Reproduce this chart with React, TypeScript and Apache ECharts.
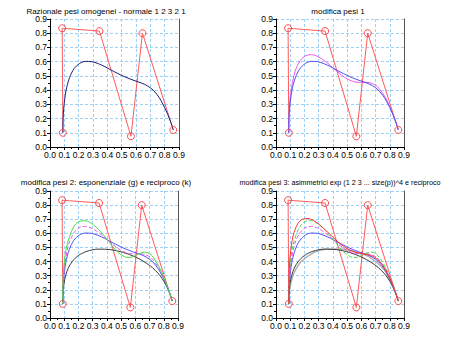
import React, { useEffect, useRef } from "react";
import * as echarts from "echarts";

// control polygon
const ctrlX = [0.09, 0.085, 0.345, 0.565, 0.645, 0.86];
const ctrlY = [0.10, 0.835, 0.815, 0.075, 0.80, 0.12];

// homogeneous weights curve
const homX = [0.09, 0.09, 0.091, 0.095, 0.111, 0.136, 0.168, 0.206, 0.247, 0.291, 0.337, 0.383, 0.428, 0.473, 0.516, 0.559, 0.600, 0.640, 0.680, 0.721, 0.763, 0.809, 0.834, 0.850, 0.86];
const homY = [0.10, 0.136, 0.187, 0.265, 0.393, 0.487, 0.551, 0.587, 0.602, 0.600, 0.586, 0.565, 0.540, 0.517, 0.496, 0.478, 0.463, 0.449, 0.430, 0.399, 0.346, 0.258, 0.197, 0.153, 0.12];

// modified weights 1
const w1X = [0.09, 0.090, 0.093, 0.103, 0.133, 0.171, 0.211, 0.251, 0.290, 0.328, 0.365, 0.400, 0.434, 0.466, 0.498, 0.530, 0.561, 0.594, 0.628, 0.667, 0.713, 0.773, 0.812, 0.840, 0.86];
const w1Y = [0.10, 0.169, 0.259, 0.376, 0.529, 0.608, 0.643, 0.649, 0.638, 0.616, 0.588, 0.557, 0.528, 0.501, 0.480, 0.465, 0.457, 0.454, 0.455, 0.450, 0.425, 0.341, 0.256, 0.184, 0.12];

// exponential (g)
const gX = [0.09, 0.091, 0.098, 0.118, 0.165, 0.210, 0.252, 0.290, 0.324, 0.356, 0.385, 0.413, 0.439, 0.464, 0.489, 0.514, 0.538, 0.564, 0.592, 0.624, 0.665, 0.698, 0.728, 0.778, 0.822, 0.86];
const gY = [0.10, 0.228, 0.367, 0.511, 0.644, 0.686, 0.689, 0.671, 0.644, 0.611, 0.576, 0.542, 0.509, 0.480, 0.456, 0.439, 0.430, 0.429, 0.439, 0.455, 0.467, 0.457, 0.428, 0.341, 0.233, 0.12];

// reciprocal (k)
const kX = [0.09, 0.090, 0.091, 0.093, 0.099, 0.110, 0.128, 0.157, 0.200, 0.260, 0.338, 0.428, 0.518, 0.601, 0.668, 0.720, 0.759, 0.788, 0.811, 0.830, 0.846, 0.86];
const kY = [0.10, 0.123, 0.147, 0.197, 0.249, 0.301, 0.353, 0.401, 0.443, 0.473, 0.488, 0.484, 0.464, 0.432, 0.395, 0.357, 0.318, 0.280, 0.242, 0.202, 0.162, 0.12];

// asymmetric
const aX = [0.09, 0.092, 0.100, 0.120, 0.153, 0.185, 0.224, 0.276, 0.348, 0.406, 0.454, 0.495, 0.562, 0.618, 0.667, 0.715, 0.761, 0.810, 0.835, 0.86];
const aY = [0.10, 0.318, 0.445, 0.582, 0.668, 0.699, 0.705, 0.683, 0.623, 0.567, 0.524, 0.494, 0.464, 0.454, 0.443, 0.415, 0.357, 0.261, 0.196, 0.12];

// asymmetric reciprocal
const arX = [0.09, 0.090, 0.092, 0.096, 0.105, 0.126, 0.172, 0.271, 0.350, 0.449, 0.558, 0.660, 0.759, 0.817, 0.838, 0.86];
const arY = [0.10, 0.126, 0.158, 0.199, 0.252, 0.317, 0.395, 0.467, 0.487, 0.489, 0.469, 0.430, 0.344, 0.237, 0.184, 0.12];

const titles = [
  "Razionale pesi omogenei - normale 1 2 3 2 1",
  "modifica pesi 1",
  "modifica pesi 2: esponenziale (g) e reciproco (k)",
  "modifica pesi 3: asimmetrici exp (1 2 3 ... size(p))^4 e reciproco",
];

const zip = (xs: number[], ys: number[]) => xs.map((x, i) => [x, ys[i]]);

export default function App() {
  const ref = useRef<HTMLDivElement>(null);
  useEffect(() => {
    if (!ref.current) return;
    const chart = echarts.init(ref.current, undefined, { renderer: "svg" });
    const grids = [
      { left: 50, top: 19, width: 129, height: 128 },
      { left: 276, top: 19, width: 128, height: 128 },
      { left: 50, top: 191, width: 128, height: 127 },
      { left: 276, top: 191, width: 128, height: 127 },
    ];
    const titlePos = [
      [106, 11, 8],
      [338, 11, 8],
      [106, 182, 8],
      [340, 182, 7.2],
    ];
    const font = "Liberation Sans";
    const xAxis: any[] = [];
    const yAxis: any[] = [];
    grids.forEach((_, i) => {
      const common = {
        type: "value",
        min: 0,
        max: 0.9,
        interval: 0.1,
        gridIndex: i,
        axisLine: { show: true, lineStyle: { color: "#000", width: 1 } },
        axisTick: { show: true, length: 3, lineStyle: { color: "#000" } },
        minorTick: { show: true, splitNumber: 2, length: 2, lineStyle: { color: "#000" } },
        axisLabel: {
          fontSize: 8.5,
          fontFamily: font,
          color: "#000",
          margin: 3,
          formatter: (v: number) => v.toFixed(1),
        },
        splitLine: {
          show: true,
          lineStyle: { color: "#9fd0f5", type: [3, 2], width: 1 },
        },
      };
      xAxis.push({ ...common, position: "bottom" });
      yAxis.push({ ...common, position: "left" });
      yAxis.push({
        type: "value",
        min: 0,
        max: 0.9,
        interval: 0.1,
        gridIndex: i,
        position: "right",
        axisLine: { show: true, lineStyle: { color: "#555", width: 1 } },
        axisTick: { show: false },
        axisLabel: { show: false },
        splitLine: { show: false },
      });
    });

    const series: any[] = [];
    const curve = (i: number, xs: number[], ys: number[], color: string, type: any = "solid", width = 1) => {
      series.push({
        type: "line",
        xAxisIndex: i,
        yAxisIndex: i * 2,
        data: zip(xs, ys),
        symbol: "none",
        smooth: 0.3,
        lineStyle: { color, width, type },
        silent: true,
      });
    };
    grids.forEach((_, i) => {
      series.push({
        type: "line",
        xAxisIndex: i,
        yAxisIndex: i * 2,
        data: zip(ctrlX, ctrlY),
        symbol: "circle",
        symbolSize: 7,
        itemStyle: { color: "rgba(0,0,0,0)", borderColor: "#ff4a4a", borderWidth: 1 },
        lineStyle: { color: "#ff5a5a", width: 1 },
        silent: true,
      });
    });
    // plot 1
    curve(0, homX, homY, "#1c1c78");
    // plot 2
    curve(1, w1X, w1Y, "#f055f0");
    curve(1, homX, homY, "#5050f0");
    // plot 3
    curve(2, kX, kY, "#3a3a3a");
    curve(2, homX, homY, "#5050f0");
    curve(2, w1X, w1Y, "#f055f0", [4, 2]);
    curve(2, gX, gY, "#40e040");
    // plot 4
    curve(3, arX, arY, "#b0b0b0", "solid", 1.5);
    curve(3, kX, kY, "#3a3a3a");
    curve(3, homX, homY, "#5050f0");
    curve(3, w1X, w1Y, "#f055f0", [4, 2]);
    curve(3, gX, gY, "#40e040", [4, 2]);
    curve(3, aX, aY, "#ff3030");

    chart.setOption({
      animation: false,
      backgroundColor: "#fff",
      grid: grids.map((g) => ({ ...g, containLabel: false })),
      xAxis,
      yAxis,
      series,
      graphic: titles.map((t, i) => ({
        type: "text",
        x: titlePos[i][0],
        y: titlePos[i][1],
        style: {
          text: t,
          align: "center",
          verticalAlign: "middle",
          font: `${titlePos[i][2]}px "${font}"`,
          fill: "#000",
        },
      })),
    });
    return () => chart.dispose();
  }, []);
  return (
    <div
      ref={ref}
      style={{ position: "fixed", left: 0, top: 0, width: 450, height: 341 }}
    />
  );
}
